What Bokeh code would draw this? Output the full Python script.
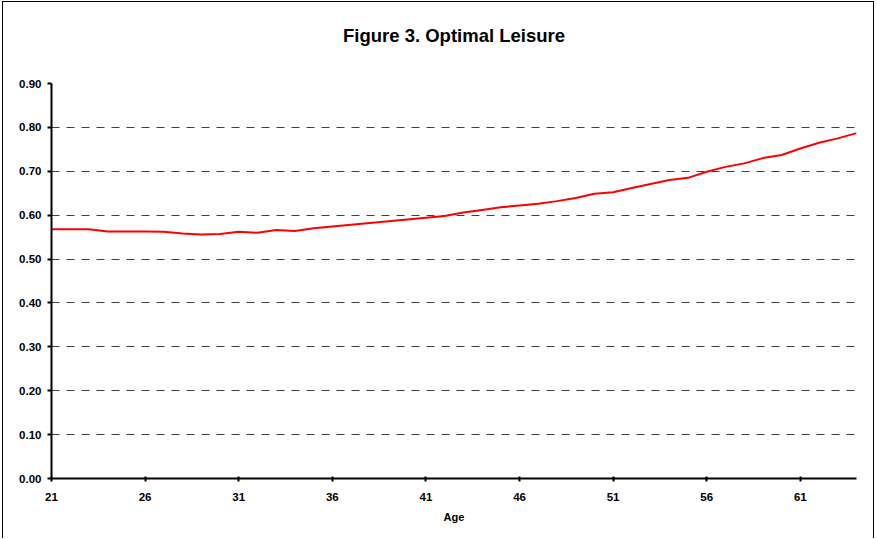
from bokeh.plotting import figure
from bokeh.models import Range1d, FixedTicker, NumeralTickFormatter, ColumnDataSource
from bokeh.embed import file_html
from bokeh.resources import INLINE

# ---- data ----
ages = [21, 22, 23, 24, 25, 26, 27, 28, 29, 30,
        31, 32, 33, 34, 35, 36, 37, 38, 39, 40,
        41, 42, 43, 44, 45, 46, 47, 48, 49, 50,
        51, 52, 53, 54, 55, 56, 57, 58, 59, 60,
        61, 62, 63, 64]
leisure = [0.568, 0.568, 0.568, 0.563, 0.563, 0.563, 0.562, 0.558, 0.556, 0.557,
           0.562, 0.560, 0.566, 0.564, 0.570, 0.574, 0.578, 0.582, 0.586, 0.590,
           0.594, 0.598, 0.606, 0.612, 0.618, 0.622, 0.626, 0.632, 0.639, 0.649,
           0.652, 0.662, 0.671, 0.680, 0.685, 0.699, 0.710, 0.718, 0.730, 0.737,
           0.752, 0.765, 0.775, 0.787]
x_tick_values = [21, 26, 31, 36, 41, 46, 51, 56, 61]
y_tick_values = [0.0, 0.1, 0.2, 0.3, 0.4, 0.5, 0.6, 0.7, 0.8, 0.9]
title_text = "Figure 3. Optimal Leisure"
x_label = "Age"

FONT = "Liberation Sans"

source = ColumnDataSource(data=dict(age=ages, leisure=leisure))

p = figure(width=872, height=537, output_backend="svg", toolbar_location=None,
           x_range=Range1d(21, 64), y_range=Range1d(0, 0.9),
           min_border_left=48, min_border_right=19, min_border_top=81,
           min_border_bottom=61, outline_line_color=None,
           background_fill_color="white", border_fill_color="white")

p.styles = {"position": "relative", "left": "2px", "top": "1px",
            "border-left": "1px solid #000", "border-top": "1px solid #000",
            "border-right": "1px solid #000"}

p.title.text = title_text
p.title.align = "center"
p.title.text_font = FONT
p.title.text_font_size = "18.5px"
p.title.text_font_style = "bold"
p.title.text_color = "black"
p.title.standoff = 0
p.title.padding = (0, 0, 0, 38)

p.line("age", "leisure", source=source, line_color="#FF0000", line_width=2)

# axes
p.xaxis.ticker = FixedTicker(ticks=x_tick_values)
p.yaxis.ticker = FixedTicker(ticks=y_tick_values)
p.yaxis.formatter = NumeralTickFormatter(format="0.00")
for ax in (p.xaxis[0], p.yaxis[0]):
    ax.axis_line_color = "black"
    ax.axis_line_width = 2
    ax.major_tick_line_color = "black"
    ax.major_tick_line_width = 2
    ax.minor_tick_line_color = None
    ax.major_label_text_font = FONT
    ax.major_label_text_font_size = "11.5px"
    ax.major_label_text_font_style = "bold"
    ax.major_label_text_color = "black"

p.xaxis.major_tick_in = 2
p.xaxis.major_tick_out = 3
p.xaxis.major_label_standoff = 11
p.yaxis.major_tick_in = 0
p.yaxis.major_tick_out = 4
p.yaxis.major_label_standoff = 6

p.xaxis.axis_label = x_label
p.xaxis.axis_label_text_font = FONT
p.xaxis.axis_label_text_font_size = "11px"
p.xaxis.axis_label_text_font_style = "bold"
p.xaxis.axis_label_text_color = "black"
p.xaxis.axis_label_standoff = 7

# grid
p.xgrid.grid_line_color = None
p.ygrid.ticker = FixedTicker(ticks=y_tick_values[1:])
p.ygrid.grid_line_color = "#404040"
p.ygrid.grid_line_width = 1
p.ygrid.grid_line_dash = "8 7"

open("out.html", "w").write(file_html(p, INLINE))
